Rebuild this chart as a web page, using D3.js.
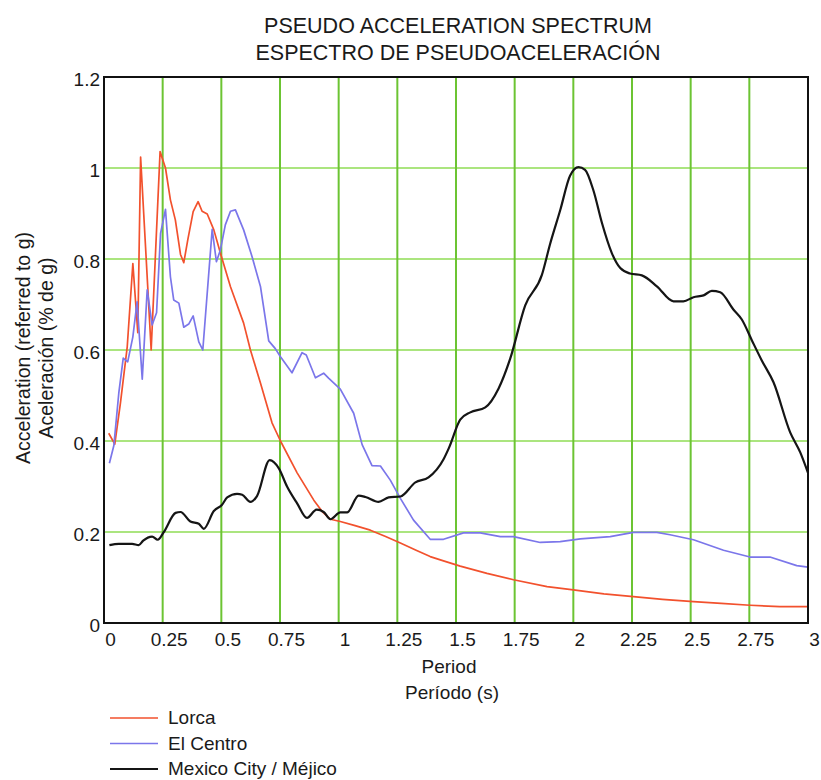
<!DOCTYPE html>
<html>
<head>
<meta charset="utf-8">
<script src="https://cdn.jsdelivr.net/npm/d3@7"></script>
<style>
  body { margin: 0; background: #fff; }
  #plot text { font-family: "Liberation Sans", Arial, Helvetica, sans-serif; fill: #1a1a1a; }
</style>
</head>
<body>
<div id="plot"></div>
<script>
// period (s), acceleration (g)
const lorca = [
  [0.02, 0.417], [0.046, 0.393], [0.07, 0.483], [0.099, 0.607], [0.123, 0.79], [0.144, 0.638],
  [0.156, 1.024], [0.177, 0.827], [0.201, 0.6], [0.239, 1.036], [0.262, 1.0], [0.283, 0.93],
  [0.304, 0.886], [0.326, 0.81], [0.34, 0.792], [0.357, 0.842], [0.38, 0.904], [0.401, 0.926],
  [0.418, 0.905], [0.44, 0.899], [0.468, 0.864], [0.496, 0.813], [0.539, 0.739], [0.595, 0.659],
  [0.624, 0.6], [0.667, 0.527], [0.716, 0.44], [0.752, 0.4], [0.823, 0.33], [0.894, 0.27],
  [0.93, 0.245], [0.965, 0.228], [1.007, 0.223], [1.07, 0.214], [1.135, 0.204], [1.2, 0.19],
  [1.263, 0.176], [1.33, 0.16], [1.39, 0.146], [1.45, 0.136], [1.518, 0.125], [1.632, 0.109],
  [1.745, 0.095], [1.888, 0.08], [2.0, 0.073], [2.13, 0.064], [2.256, 0.058], [2.38, 0.052],
  [2.512, 0.047], [2.63, 0.043], [2.753, 0.039], [2.88, 0.036], [3.0, 0.036]
];

const elCentro = [
  [0.023, 0.351], [0.042, 0.39], [0.063, 0.505], [0.082, 0.582], [0.101, 0.574], [0.123, 0.629],
  [0.141, 0.706], [0.163, 0.536], [0.184, 0.732], [0.205, 0.655], [0.224, 0.682], [0.241, 0.856],
  [0.262, 0.909], [0.283, 0.761], [0.297, 0.71], [0.319, 0.703], [0.34, 0.65], [0.361, 0.657],
  [0.38, 0.675], [0.404, 0.618], [0.421, 0.6], [0.461, 0.865], [0.479, 0.794], [0.496, 0.82],
  [0.517, 0.875], [0.539, 0.905], [0.56, 0.908], [0.595, 0.864], [0.631, 0.805], [0.667, 0.739],
  [0.702, 0.62], [0.73, 0.603], [0.752, 0.585], [0.801, 0.55], [0.844, 0.594], [0.862, 0.589],
  [0.901, 0.539], [0.936, 0.549], [0.957, 0.538], [1.007, 0.514], [1.064, 0.461], [1.1, 0.392],
  [1.142, 0.346], [1.178, 0.345], [1.22, 0.314], [1.263, 0.274], [1.319, 0.226], [1.39, 0.184],
  [1.447, 0.184], [1.532, 0.198], [1.603, 0.198], [1.689, 0.19], [1.745, 0.19], [1.859, 0.177],
  [1.944, 0.179], [2.03, 0.185], [2.157, 0.19], [2.256, 0.199], [2.356, 0.199], [2.412, 0.194],
  [2.512, 0.183], [2.64, 0.16], [2.753, 0.145], [2.838, 0.145], [2.952, 0.126], [3.0, 0.123]
];

const mexico = [
  [0.023, 0.171], [0.063, 0.174], [0.12, 0.174], [0.148, 0.171], [0.167, 0.181], [0.205, 0.19],
  [0.229, 0.183], [0.255, 0.2], [0.305, 0.242], [0.326, 0.244], [0.368, 0.223], [0.404, 0.218],
  [0.425, 0.207], [0.468, 0.246], [0.503, 0.26], [0.525, 0.276], [0.567, 0.284], [0.589, 0.282],
  [0.624, 0.266], [0.652, 0.279], [0.706, 0.358], [0.745, 0.34], [0.78, 0.3], [0.823, 0.263],
  [0.865, 0.231], [0.906, 0.249], [0.936, 0.244], [0.965, 0.228], [1.007, 0.243], [1.036, 0.243],
  [1.085, 0.28], [1.114, 0.277], [1.17, 0.266], [1.213, 0.276], [1.263, 0.278], [1.327, 0.309],
  [1.383, 0.32], [1.447, 0.36], [1.47, 0.385], [1.518, 0.447], [1.561, 0.463], [1.625, 0.474],
  [1.681, 0.515], [1.731, 0.581], [1.795, 0.698], [1.866, 0.765], [1.901, 0.833], [1.944, 0.907],
  [1.986, 0.983], [2.022, 1.002], [2.05, 0.996], [2.086, 0.95], [2.122, 0.879], [2.164, 0.813],
  [2.2, 0.78], [2.242, 0.768], [2.292, 0.764], [2.356, 0.74], [2.427, 0.707], [2.469, 0.707],
  [2.512, 0.716], [2.555, 0.72], [2.59, 0.73], [2.626, 0.727], [2.682, 0.689], [2.718, 0.667],
  [2.761, 0.621], [2.803, 0.577], [2.853, 0.529], [2.924, 0.419], [2.967, 0.375], [3.0, 0.33]
];

const xTicks = [0, 0.25, 0.5, 0.75, 1, 1.25, 1.5, 1.75, 2, 2.25, 2.5, 2.75, 3];
const yTicks = [0, 0.2, 0.4, 0.6, 0.8, 1, 1.2];

const seriesNames = ["Lorca", "El Centro", "Mexico City / Méjico"];
const seriesColors = ["#f2512d", "#7b76ea", "#151515"];

const width = 821;
const height = 780;
const marginTop = 77;
const marginRight = 13;
const marginBottom = 157;
const marginLeft = 104;

const svg = d3.create("svg")
    .attr("width", width)
    .attr("height", height)
    .attr("viewBox", [0, 0, width, height]);

const x = d3.scaleLinear()
    .domain([0, 3])
    .range([marginLeft, width - marginRight]);

const y = d3.scaleLinear()
    .domain([0, 1.2])
    .range([height - marginBottom, marginTop]);

// grid
svg.append("g")
    .selectAll("line")
    .data(yTicks.slice(1, -1))
    .join("line")
    .attr("x1", marginLeft)
    .attr("x2", width - marginRight)
    .attr("y1", d => y(d))
    .attr("y2", d => y(d))
    .attr("stroke", "#8fdc55")
    .attr("stroke-width", 1.6);

svg.append("g")
    .selectAll("line")
    .data(xTicks.slice(1, -1))
    .join("line")
    .attr("x1", d => x(d))
    .attr("x2", d => x(d))
    .attr("y1", marginTop)
    .attr("y2", height - marginBottom)
    .attr("stroke", "#6cc433")
    .attr("stroke-width", 2);

// x axis labels
const xAxis = svg.append("g")
    .attr("transform", `translate(0,${height - marginBottom})`)
    .call(d3.axisBottom(x).tickValues(xTicks).tickSize(0).tickPadding(10).tickFormat(d => String(d)));
xAxis.select(".domain").remove();
xAxis.selectAll("text")
    .attr("dx", 6)
    .style("font-size", "19px");

// y axis labels
const yAxis = svg.append("g")
    .attr("transform", `translate(${marginLeft},0)`)
    .call(d3.axisLeft(y).tickValues(yTicks).tickSize(0).tickPadding(4).tickFormat(d => String(d)));
yAxis.select(".domain").remove();
yAxis.selectAll("text")
    .attr("dy", "0.45em")
    .style("font-size", "19px");

// series
const line = d3.line()
    .x(d => x(d[0]))
    .y(d => y(d[1]));

svg.append("path")
    .datum(lorca)
    .attr("fill", "none")
    .attr("stroke", seriesColors[0])
    .attr("stroke-width", 1.7)
    .attr("stroke-linejoin", "round")
    .attr("d", line);

svg.append("path")
    .datum(elCentro)
    .attr("fill", "none")
    .attr("stroke", seriesColors[1])
    .attr("stroke-width", 1.7)
    .attr("stroke-linejoin", "round")
    .attr("d", line);

svg.append("path")
    .datum(mexico)
    .attr("fill", "none")
    .attr("stroke", seriesColors[2])
    .attr("stroke-width", 2.2)
    .attr("stroke-linejoin", "round")
    .attr("d", line.curve(d3.curveMonotoneX));

// frame
svg.append("rect")
    .attr("x", marginLeft)
    .attr("y", marginTop)
    .attr("width", width - marginLeft - marginRight)
    .attr("height", height - marginTop - marginBottom)
    .attr("fill", "none")
    .attr("stroke", "#111")
    .attr("stroke-width", 2);

// title
svg.append("text")
    .attr("x", 458)
    .attr("y", 33)
    .attr("text-anchor", "middle")
    .style("font-size", "21.5px")
    .text("PSEUDO ACCELERATION SPECTRUM");

svg.append("text")
    .attr("x", 458)
    .attr("y", 60)
    .attr("text-anchor", "middle")
    .style("font-size", "21.5px")
    .text("ESPECTRO DE PSEUDOACELERACIÓN");

// x axis title
svg.append("text")
    .attr("x", 449)
    .attr("y", 673)
    .attr("text-anchor", "middle")
    .style("font-size", "19px")
    .text("Period");

svg.append("text")
    .attr("x", 452)
    .attr("y", 699)
    .attr("text-anchor", "middle")
    .style("font-size", "19px")
    .text("Período (s)");

// y axis title
const yMid = (marginTop + height - marginBottom) / 2 - 2;
svg.append("text")
    .attr("transform", `translate(30,${yMid}) rotate(-90)`)
    .attr("text-anchor", "middle")
    .style("font-size", "19.5px")
    .text("Acceleration (referred to g)");

svg.append("text")
    .attr("transform", `translate(53,${yMid}) rotate(-90)`)
    .attr("text-anchor", "middle")
    .style("font-size", "19.5px")
    .text("Aceleración (% de g)");

// legend
const legend = svg.append("g")
    .attr("transform", "translate(110,718)");

const legendItems = legend.selectAll("g")
    .data(seriesNames)
    .join("g")
    .attr("transform", (d, i) => `translate(0,${i * 25.5})`);

legendItems.append("line")
    .attr("x1", 0)
    .attr("x2", 48)
    .attr("stroke", (d, i) => seriesColors[i])
    .attr("stroke-width", (d, i) => i === 2 ? 2.2 : 1.5);

legendItems.append("text")
    .attr("x", 58)
    .attr("dy", "0.34em")
    .style("font-size", "19px")
    .text(d => d);

document.getElementById("plot").appendChild(svg.node());
</script>
</body>
</html>
